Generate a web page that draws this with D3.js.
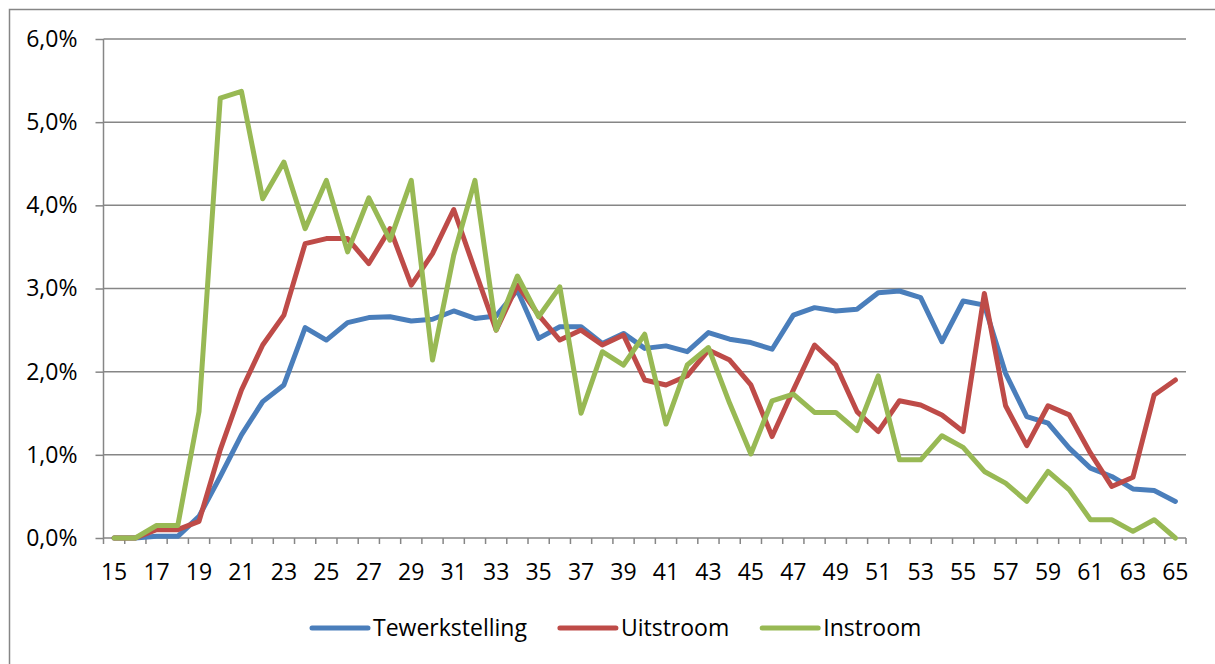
<!DOCTYPE html>
<html>
<head>
<meta charset="utf-8">
<script src="https://cdn.jsdelivr.net/npm/d3@7"></script>
<style>
  body { margin: 0; background: #fff; }
  text { font-family: "Open Sans", "Noto Sans", sans-serif; fill: #000; }
</style>
</head>
<body>
<div id="chart"></div>
<script>
const ages = d3.range(15, 66);
const tewerkstelling = [0, 0, 0.02, 0.02, 0.26, 0.74, 1.24, 1.64, 1.84, 2.53, 2.38, 2.59, 2.65, 2.66, 2.61, 2.63, 2.73, 2.64, 2.67, 2.98,
  2.40, 2.54, 2.54, 2.34, 2.46, 2.28, 2.31, 2.24, 2.47, 2.39, 2.35, 2.27, 2.68, 2.77, 2.73, 2.75, 2.95, 2.97, 2.89, 2.36,
  2.85, 2.80, 1.98, 1.46, 1.38, 1.08, 0.84, 0.74, 0.59, 0.57, 0.44];
const uitstroom = [0, 0, 0.1, 0.1, 0.2, 1.06, 1.78, 2.32, 2.68, 3.54, 3.60, 3.60, 3.30, 3.72, 3.04, 3.42, 3.95, 3.22, 2.50, 3.04,
  2.68, 2.38, 2.50, 2.32, 2.44, 1.90, 1.84, 1.95, 2.26, 2.14, 1.84, 1.22, 1.78, 2.32, 2.08, 1.52, 1.28, 1.65, 1.60, 1.48,
  1.28, 2.94, 1.59, 1.11, 1.59, 1.48, 1.02, 0.62, 0.73, 1.72, 1.90];
const instroom = [0, 0, 0.15, 0.15, 1.52, 5.29, 5.37, 4.08, 4.52, 3.72, 4.30, 3.44, 4.09, 3.58, 4.30, 2.14, 3.40, 4.30, 2.50, 3.15,
  2.66, 3.02, 1.50, 2.24, 2.08, 2.45, 1.37, 2.08, 2.29, 1.62, 1.01, 1.65, 1.73, 1.51, 1.51, 1.29, 1.95, 0.94, 0.94, 1.23,
  1.09, 0.80, 0.66, 0.44, 0.80, 0.58, 0.22, 0.22, 0.08, 0.22, 0];
const seriesNames = ["Tewerkstelling", "Uitstroom", "Instroom"];
const seriesColors = ["#4a7ebb", "#be4b48", "#98b954"];
const yTicks = [0, 1, 2, 3, 4, 5, 6];

const W = 1215, H = 664;
const margin = { left: 103.5, right: 1186, top: 39, bottom: 538 };
const gridColor = "#868686";

const svg = d3.select("#chart").append("svg")
  .attr("width", W)
  .attr("height", H);

// outer chart border (right and bottom edges fall outside the window)
svg.append("rect")
  .attr("x", 9.5).attr("y", 9.5)
  .attr("width", W + 20).attr("height", H + 20)
  .attr("fill", "none")
  .attr("stroke", gridColor)
  .attr("stroke-width", 1.5);

const x = d3.scaleBand()
  .domain(ages)
  .range([margin.left, margin.right]);

const y = d3.scaleLinear()
  .domain([0, 6])
  .range([margin.bottom, margin.top]);

const fmt = v => d3.format(".1f")(v).replace(".", ",") + "%";

// gridlines
svg.append("g")
  .selectAll("line")
  .data(yTicks.filter(d => d > 0))
  .join("line")
  .attr("x1", margin.left).attr("x2", margin.right)
  .attr("y1", d => y(d)).attr("y2", d => y(d))
  .attr("stroke", gridColor)
  .attr("stroke-width", 1.5);

// y axis
const yAxis = svg.append("g")
  .attr("transform", `translate(${margin.left},0)`)
  .call(d3.axisLeft(y).tickValues(yTicks).tickSize(8).tickPadding(18).tickFormat(fmt));
yAxis.selectAll("line, path").attr("stroke", gridColor).attr("stroke-width", 1.5);
yAxis.select("path").attr("d", `M0,${margin.top}V${margin.bottom}`);
yAxis.selectAll("text")
  .style("font-size", "23px")
  .style("font-family", "'Open Sans', sans-serif")
  .attr("fill", "#000");

// x axis: ticks on the category boundaries, labels on every other category
const xAxis = svg.append("g")
  .attr("transform", `translate(0,${margin.bottom})`);
xAxis.append("line")
  .attr("x1", margin.left).attr("x2", margin.right)
  .attr("stroke", gridColor).attr("stroke-width", 1.5);
xAxis.selectAll(".tick")
  .data(ages.concat([66]))
  .join("line")
  .attr("class", "tick")
  .attr("x1", d => d <= 65 ? x(d) : margin.right)
  .attr("x2", d => d <= 65 ? x(d) : margin.right)
  .attr("y1", 0).attr("y2", 6)
  .attr("stroke", gridColor).attr("stroke-width", 1.5);
xAxis.selectAll("text")
  .data(ages.filter(d => (d - 15) % 2 === 0))
  .join("text")
  .attr("x", d => x(d) + x.bandwidth() / 2)
  .attr("y", 42)
  .attr("text-anchor", "middle")
  .style("font-size", "23px")
  .text(d => d);

// lines
const allSeries = [tewerkstelling, uitstroom, instroom];
const line = d3.line()
  .x((d, i) => x(ages[i]) + x.bandwidth() / 2)
  .y(d => y(d));

svg.append("g")
  .selectAll("path")
  .data(allSeries)
  .join("path")
  .attr("d", d => line(d))
  .attr("fill", "none")
  .attr("stroke", (d, i) => seriesColors[i])
  .attr("stroke-width", 5)
  .attr("stroke-linejoin", "round")
  .attr("stroke-linecap", "round");

// legend
const legend = svg.append("g").attr("transform", "translate(312,628)");
let lx = 0;
seriesNames.forEach((name, i) => {
  const item = legend.append("g").attr("transform", `translate(${lx},0)`);
  item.append("line")
    .attr("x1", 0).attr("x2", 56)
    .attr("stroke", seriesColors[i])
    .attr("stroke-width", 5)
    .attr("stroke-linecap", "round");
  const t = item.append("text")
    .attr("x", 61)
    .attr("dy", "0.35em")
    .style("font-size", "23px")
    .text(name);
  lx += 61 + t.node().getComputedTextLength() + 33;
});
</script>
</body>
</html>
